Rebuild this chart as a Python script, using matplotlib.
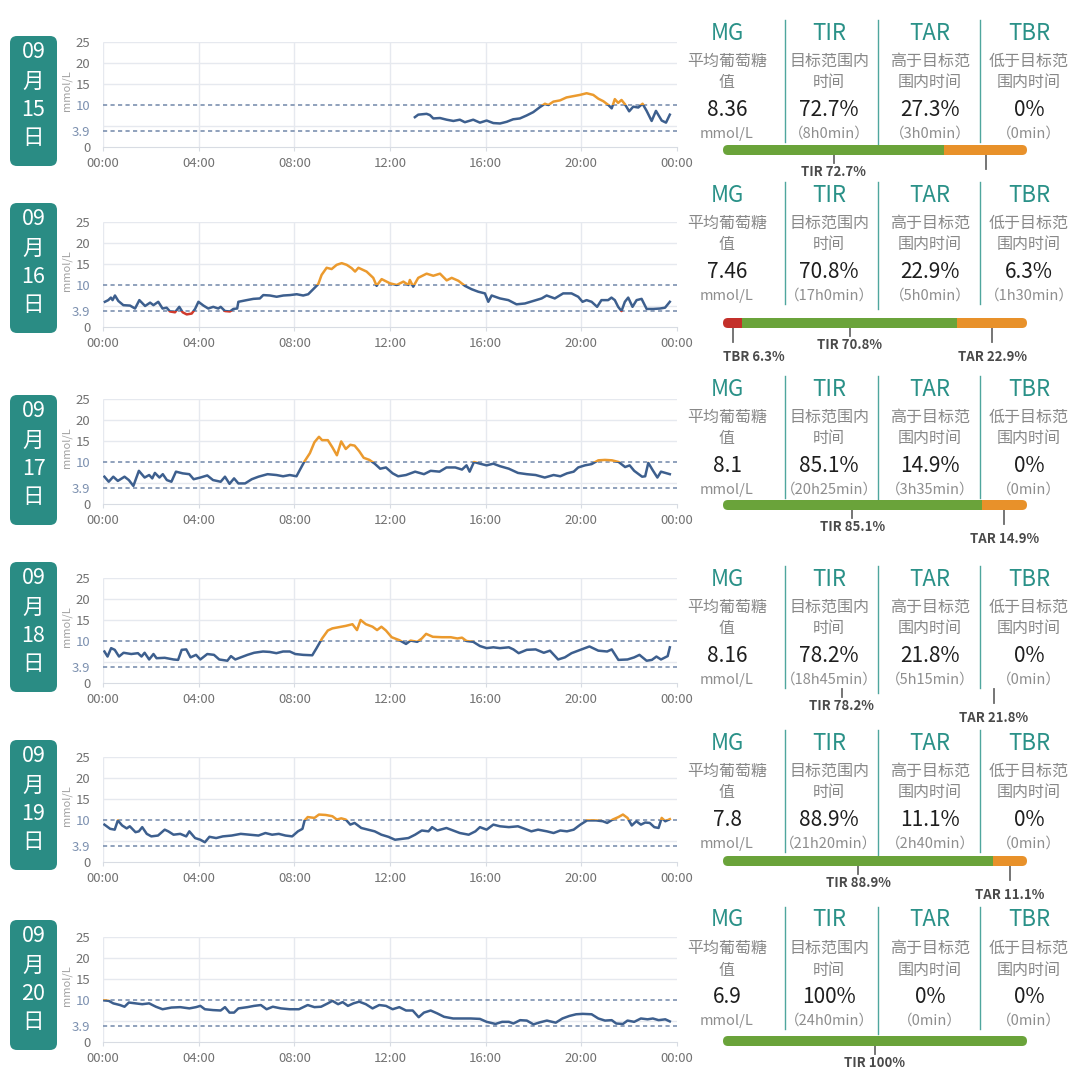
# CGM daily glucose overview (6 days) with TIR / TAR / TBR summary panels

import matplotlib
matplotlib.use('Agg')
import matplotlib.pyplot as plt
from matplotlib.patches import FancyBboxPatch, Rectangle
from matplotlib.transforms import blended_transform_factory

plt.rcParams['font.family'] = ['Noto Sans CJK SC', 'DejaVu Sans']

# ---------------- data ----------------
month = '09'
days = ['15', '16', '17', '18', '19', '20']

d15_t = [13.04, 13.18, 13.53, 13.67, 13.81, 14.09, 14.37, 14.65, 14.92, 15.13, 15.48, 15.76,
         16.04, 16.32, 16.60, 16.88, 17.15, 17.43, 17.71, 17.99, 18.27, 18.48, 18.62, 18.83,
         19.11, 19.38, 19.66, 19.94, 20.22, 20.50, 20.71, 20.92, 21.13, 21.27, 21.40, 21.54,
         21.68, 21.82, 22.00, 22.17, 22.38, 22.56, 22.73, 22.94, 23.12, 23.36, 23.54, 23.70]
d15_g = [7.1, 7.7, 7.9, 7.6, 6.8, 6.9, 6.5, 6.2, 6.5, 5.9, 6.5, 5.8,
         6.3, 5.7, 5.6, 6.0, 6.6, 6.8, 7.5, 8.3, 9.5, 10.3, 10.0, 10.8,
         11.1, 11.8, 12.1, 12.4, 12.8, 12.4, 11.5, 10.9, 10.0, 9.2, 11.4, 10.5,
         11.2, 10.2, 8.5, 9.6, 9.4, 10.3, 8.6, 6.2, 8.6, 6.3, 5.8, 7.7]

d16_t = [0.08, 0.22, 0.33, 0.40, 0.50, 0.64, 0.85, 1.13, 1.34, 1.52,
         1.76, 1.97, 2.11, 2.31, 2.49, 2.66, 2.80, 3.01, 3.19, 3.33,
         3.50, 3.71, 3.85, 3.99, 4.20, 4.40, 4.61, 4.82, 4.92, 5.10,
         5.31, 5.45, 5.61, 5.66, 6.01, 6.29, 6.56, 6.70, 6.98, 7.26,
         7.54, 7.82, 8.10, 8.37, 8.58, 8.72, 8.86, 9.00, 9.14, 9.35,
         9.56, 9.77, 9.98, 10.19, 10.40, 10.54, 10.68,
         11.02, 11.30, 11.44, 11.65, 12.00, 12.28, 12.56, 12.77, 12.83, 12.97,
         13.18, 13.53, 13.81, 14.09, 14.37, 14.58, 14.86, 15.13, 15.41, 15.69,
         15.97, 16.11, 16.25, 16.60, 16.95, 17.29, 17.64, 17.99, 18.34, 18.55,
         18.89, 19.24, 19.59, 19.87, 20.05, 20.22, 20.43, 20.66, 20.84, 21.12,
         21.26, 21.40, 21.54, 21.68, 21.82, 21.96, 22.14, 22.31, 22.52, 22.73,
         23.01, 23.29, 23.50, 23.70]
d16_g = [6.0, 6.4, 7.0, 6.4, 7.5, 6.2, 5.2, 5.1, 4.4, 6.4,
         5.0, 5.8, 5.2, 6.0, 4.4, 4.6, 3.7, 3.5, 4.8, 3.5,
         3.0, 3.2, 4.3, 6.0, 5.1, 4.4, 4.8, 4.4, 4.8, 3.8,
         3.7, 4.3, 4.4, 6.0, 6.4, 6.7, 6.8, 7.6, 7.5, 7.2,
         7.5, 7.6, 7.8, 7.5, 7.8, 8.6, 9.4, 10.2, 12.4, 14.1,
         13.8, 14.8, 15.2, 14.8, 14.0, 13.2, 14.1,
         13.2, 11.7, 9.8, 11.4, 10.4, 10.0, 10.8, 10.0, 11.2, 9.6,
         11.7, 12.7, 12.2, 12.7, 11.1, 11.7, 11.0, 9.8, 9.0, 8.4,
         8.0, 6.0, 7.5, 6.8, 6.4, 5.4, 5.6, 6.2, 6.8, 7.5,
         6.8, 8.0, 8.0, 7.2, 6.0, 6.4, 6.0, 4.8, 6.4, 6.4,
         7.0, 6.4, 4.8, 3.8, 6.0, 7.0, 4.8, 6.4, 6.7, 4.3,
         4.3, 4.4, 4.6, 6.0]

d17_t = [0.06, 0.24, 0.43, 0.62, 0.90, 1.08, 1.27, 1.50, 1.74, 1.93,
         2.06, 2.17, 2.36, 2.50, 2.67, 2.86, 3.05, 3.33, 3.61, 3.79,
         4.07, 4.36, 4.60, 4.92, 5.10, 5.29, 5.48, 5.66, 5.94, 6.22,
         6.50, 6.88, 7.25, 7.53, 7.81, 8.09, 8.22, 8.41, 8.65, 8.84,
         9.03, 9.16, 9.40, 9.59, 9.78, 9.96, 10.15, 10.34, 10.52, 10.71,
         10.90, 11.14, 11.36, 11.59, 11.83, 12.11, 12.34, 12.67, 13.05, 13.42,
         13.70, 14.07, 14.36, 14.73, 15.01, 15.20, 15.33, 15.51, 15.76, 16.04,
         16.32, 16.60, 16.97, 17.35, 17.72, 18.09, 18.47, 18.84, 19.12, 19.40,
         19.68, 19.87, 20.15, 20.43, 20.71, 20.99, 21.28, 21.56, 21.83, 22.02,
         22.21, 22.54, 22.67, 22.80, 22.99, 23.18, 23.33, 23.70]
d17_g = [6.5, 5.3, 6.5, 5.5, 6.5, 5.7, 4.3, 7.9, 6.3, 6.9,
         6.1, 7.4, 6.3, 7.1, 5.7, 5.3, 7.7, 7.3, 7.1, 5.9,
         6.3, 6.8, 5.7, 5.3, 6.5, 4.8, 6.1, 4.9, 4.9, 5.9,
         6.5, 7.1, 6.9, 6.6, 6.9, 6.6, 8.0, 10.0, 12.1, 14.7,
         16.0, 15.2, 15.2, 13.5, 11.6, 14.9, 13.1, 14.1, 13.9, 12.6,
         11.0, 10.5, 9.6, 8.4, 8.7, 7.3, 6.6, 6.9, 7.7, 7.1,
         7.9, 7.7, 8.7, 8.7, 8.2, 9.2, 7.7, 10.0, 9.6, 9.2,
         9.6, 9.0, 8.4, 7.4, 7.1, 6.9, 6.3, 6.9, 6.6, 7.3,
         7.7, 8.7, 9.2, 9.5, 10.4, 10.5, 10.4, 10.0, 8.8, 9.2,
         7.9, 6.5, 6.6, 9.8, 8.0, 6.3, 7.7, 7.1]

d18_t = [0.06, 0.19, 0.34, 0.49, 0.67, 0.86, 1.18, 1.46, 1.61, 1.74,
         1.93, 2.11, 2.24, 2.58, 2.95, 3.14, 3.29, 3.48, 3.66, 3.89,
         4.07, 4.36, 4.64, 4.86, 5.20, 5.35, 5.53, 5.76, 6.04, 6.32,
         6.69, 6.97, 7.25, 7.53, 7.81, 8.04, 8.37, 8.75, 8.93, 9.16,
         9.40, 9.59, 9.87, 10.15, 10.43, 10.62, 10.77, 10.99, 11.27, 11.46,
         11.64, 11.83, 12.07, 12.39, 12.67, 12.86, 13.14, 13.33, 13.51, 13.79,
         14.17, 14.54, 14.82, 15.01, 15.20, 15.48, 15.76, 16.04, 16.32, 16.60,
         16.97, 17.16, 17.38, 17.72, 18.09, 18.43, 18.69, 19.03, 19.31, 19.59,
         19.96, 20.34, 20.71, 21.08, 21.27, 21.55, 21.93, 22.21, 22.43, 22.73,
         22.95, 23.14, 23.33, 23.61, 23.70]
d18_g = [7.5, 6.3, 8.3, 7.9, 6.3, 7.2, 6.9, 7.1, 6.3, 7.2,
         5.6, 6.9, 5.9, 6.0, 5.6, 5.5, 7.9, 8.0, 6.1, 6.7,
         5.6, 6.9, 6.7, 5.6, 5.3, 6.4, 5.6, 6.1, 6.7, 7.2,
         7.5, 7.4, 7.1, 7.5, 7.5, 6.9, 6.7, 6.6, 8.3, 10.6,
         12.5, 13.0, 13.3, 13.6, 14.0, 12.6, 15.0, 14.0, 13.4, 12.6,
         13.4, 12.5, 10.9, 10.2, 9.3, 10.1, 9.8, 10.6, 11.7, 11.0,
         10.9, 10.9, 10.6, 10.8, 10.0, 9.8, 8.8, 8.3, 8.5, 8.3,
         8.5, 8.0, 7.1, 7.9, 8.0, 7.2, 7.7, 5.6, 6.1, 7.1,
         7.9, 8.7, 7.7, 7.5, 8.0, 5.5, 5.6, 6.1, 6.7, 5.3,
         5.5, 6.3, 5.6, 6.4, 8.5]

d19_t = [0.06, 0.30, 0.49, 0.62, 0.80, 0.99, 1.12, 1.36, 1.50, 1.64,
         1.83, 2.02, 2.30, 2.58, 2.73, 2.95, 3.23, 3.48, 3.61, 3.85,
         4.07, 4.26, 4.45, 4.73, 5.01, 5.38, 5.76, 6.13, 6.50, 6.79,
         7.07, 7.35, 7.63, 7.91, 8.15, 8.34, 8.43, 8.56, 8.84, 9.03,
         9.31, 9.59, 9.78, 9.96, 10.15, 10.34, 10.52, 10.80, 11.08, 11.36,
         11.64, 11.93, 12.21, 12.49, 12.77, 13.05, 13.33, 13.61, 13.76, 13.98,
         14.36, 14.64, 14.92, 15.29, 15.57, 15.76, 16.04, 16.32, 16.60, 16.97,
         17.35, 17.63, 17.91, 18.19, 18.56, 18.84, 19.12, 19.40, 19.68, 19.96,
         20.24, 20.62, 20.90, 21.08, 21.31, 21.55, 21.74, 21.93, 22.11, 22.30,
         22.49, 22.67, 22.86, 23.05, 23.23, 23.36, 23.51, 23.70]
d19_g = [8.9, 7.9, 7.7, 9.9, 8.7, 8.0, 8.5, 7.1, 7.3, 8.3,
         6.7, 6.1, 6.3, 7.7, 7.3, 6.5, 6.7, 6.1, 7.3, 5.7,
         5.3, 4.7, 6.0, 5.7, 6.1, 6.3, 6.7, 6.5, 6.3, 6.9,
         6.5, 6.7, 6.3, 6.1, 7.3, 7.9, 9.9, 10.7, 10.5, 11.3,
         11.2, 10.9, 10.1, 10.4, 10.1, 8.9, 9.3, 8.1, 7.7, 7.3,
         6.5, 6.0, 5.3, 5.5, 5.7, 6.5, 7.5, 7.3, 8.3, 7.5,
         8.1, 7.5, 6.9, 6.5, 7.3, 8.3, 7.7, 8.9, 8.5, 8.3,
         8.5, 7.9, 7.3, 7.7, 7.3, 6.9, 7.5, 7.3, 7.7, 8.9,
         9.9, 9.9, 9.7, 9.3, 10.1, 10.7, 11.3, 10.5, 8.7, 9.7,
         8.9, 9.4, 9.3, 8.3, 8.1, 10.5, 9.7, 10.2]

d20_t = [0.06, 0.24, 0.43, 0.71, 0.90, 1.08, 1.36, 1.64, 1.93, 2.21,
         2.49, 2.86, 3.23, 3.61, 3.89, 4.07, 4.26, 4.60, 4.92, 5.10,
         5.29, 5.48, 5.66, 6.04, 6.32, 6.60, 6.84, 7.10, 7.44, 7.81,
         8.19, 8.56, 8.84, 9.12, 9.40, 9.59, 9.83, 10.02, 10.24, 10.47,
         10.71, 10.99, 11.27, 11.55, 11.83, 12.11, 12.39, 12.67, 12.95, 13.20,
         13.42, 13.70, 13.98, 14.26, 14.64, 15.01, 15.38, 15.76, 16.04, 16.41,
         16.69, 16.97, 17.16, 17.44, 17.72, 18.00, 18.28, 18.56, 18.93, 19.21,
         19.50, 19.78, 20.06, 20.43, 20.71, 20.99, 21.27, 21.46, 21.74, 21.93,
         22.21, 22.49, 22.77, 22.99, 23.23, 23.51, 23.70]
d20_g = [9.9, 9.8, 9.2, 8.8, 8.4, 9.4, 9.2, 9.0, 9.2, 8.4,
         7.8, 8.2, 8.3, 8.0, 8.3, 8.6, 7.8, 7.6, 7.5, 8.3,
         7.0, 7.0, 8.0, 8.3, 8.6, 8.8, 7.8, 8.4, 8.0, 7.8,
         7.8, 8.8, 8.3, 8.4, 9.2, 9.8, 9.0, 9.5, 8.6, 9.2,
         9.6, 9.0, 8.0, 8.8, 8.6, 7.8, 8.3, 7.5, 7.5, 5.9,
         7.0, 7.5, 6.8, 6.0, 5.6, 5.6, 5.6, 5.5, 4.8, 4.3,
         4.8, 4.8, 4.4, 5.2, 5.1, 4.2, 4.7, 5.1, 4.6, 5.6,
         6.2, 6.6, 6.7, 6.6, 5.6, 5.1, 5.2, 4.4, 4.3, 5.1,
         4.8, 5.6, 5.4, 5.6, 5.2, 5.4, 4.9]

series_t = [d15_t, d16_t, d17_t, d18_t, d19_t, d20_t]
series_g = [d15_g, d16_g, d17_g, d18_g, d19_g, d20_g]

mg_val = ['8.36', '7.46', '8.1', '8.16', '7.8', '6.9']
tir_txt = ['72.7%', '70.8%', '85.1%', '78.2%', '88.9%', '100%']
tar_txt = ['27.3%', '22.9%', '14.9%', '21.8%', '11.1%', '0%']
tbr_txt = ['0%', '6.3%', '0%', '0%', '0%', '0%']
tir_pct = [72.7, 70.8, 85.1, 78.2, 88.9, 100]
tar_pct = [27.3, 22.9, 14.9, 21.8, 11.1, 0]
tbr_pct = [0, 6.3, 0, 0, 0, 0]
tir_time = ['8h0min', '17h0min', '20h25min', '18h45min', '21h20min', '24h0min']
tar_time = ['3h0min', '5h0min', '3h35min', '5h15min', '2h40min', '0min']
tbr_time = ['0min', '1h30min', '0min', '0min', '0min', '0min']
bar_drawn = [True, True, True, False, True, True]
tar_label_shown = [False, True, True, True, True, False]

heads = ['MG', 'TIR', 'TAR', 'TBR']
subs = [('平均葡萄糖', '值'), ('目标范围内', '时间'), ('高于目标范', '围内时间'), ('低于目标范', '围内时间')]

ytick_vals = [0, 3.9, 10, 15, 20, 25]
xtick_vals = [0, 4, 8, 12, 16, 20, 24]
xtick_labels = ['00:00', '04:00', '08:00', '12:00', '16:00', '20:00', '00:00']

# ---------------- layout (pixels) ----------------
W, H = 1080, 1083
badge_top = [36, 203, 395, 562, 740, 920]
plot_top = [42, 222, 399, 578, 757, 937]
head_y = [33, 195, 389, 579, 743, 920]
bar_y = [150, 323, 505, 684, 861, 1041]
col_x = [727, 829, 930, 1029]
sep_x = [785, 878, 980]

TEAL = '#2a8c84'
HEAD = '#2a9188'
BLUE = '#3d5f8e'
ORANGE = '#eb9a2e'
RED = '#cf3a2c'
GREEN = '#6aa33a'
BAR_OR = '#e8912a'
BAR_RED = '#c3302a'
GRID = '#e6e9ef'
REF = '#7d91b0'


def px_rect(x0, y0, x1, y1):
    return [x0 / W, 1 - y1 / H, (x1 - x0) / W, (y1 - y0) / H]


fig = plt.figure(figsize=(W / 100, H / 100), dpi=100)
ov = fig.add_axes([0, 0, 1, 1])
ov.set_xlim(0, W)
ov.set_ylim(H, 0)
ov.axis('off')

for i in range(6):
    # date badge
    top = badge_top[i]
    ov.add_patch(FancyBboxPatch((10, top), 47, 130, boxstyle='round,pad=0,rounding_size=7',
                                fc=TEAL, ec='none'))
    for txt, dy in zip([month, '月', days[i], '日'], [16, 46, 74, 102]):
        ov.text(33.5, top + dy, txt, color='white', fontsize=15.5, ha='center', va='center')

    # glucose chart
    ax = fig.add_axes(px_rect(103, plot_top[i], 677, plot_top[i] + 105))
    ax.set_facecolor('none')
    ax.set_xlim(0, 24)
    ax.set_ylim(0, 25)
    for s in ['top', 'right', 'left']:
        ax.spines[s].set_visible(False)
    ax.spines['bottom'].set_color('#d8dce3')
    ax.hlines([5, 15, 20, 25], 0, 24, color=GRID, lw=1, zorder=0)
    ax.vlines(xtick_vals[:-1], 0, 25, color=GRID, lw=1, zorder=0)
    ax.axhline(10, color=REF, lw=1.2, ls=(0, (2.5, 2)), zorder=1)
    ax.axhline(3.9, color=REF, lw=1.2, ls=(0, (2.5, 2)), zorder=1)
    ax.set_xticks(xtick_vals)
    ax.set_xticklabels(xtick_labels)
    ax.set_yticks(ytick_vals)
    ax.set_yticklabels(['0', '3.9', '10', '15', '20', '25'])
    ax.tick_params(axis='y', length=0, pad=9, labelsize=9.5, labelcolor='#727272')
    ax.tick_params(axis='x', length=3, color='#d8dce3', pad=4, labelsize=9.5, labelcolor='#727272')
    for lab, v in zip(ax.get_yticklabels(), ytick_vals):
        if v in (3.9, 10):
            lab.set_color(REF)
    ax.text(-0.063, 0.54, 'mmol/L', rotation=90, transform=ax.transAxes,
            ha='center', va='center', fontsize=8, color='#a0a0a0')

    t, g = series_t[i], series_g[i]
    for col, lo, hi in [(BLUE, 3.9, 10), (ORANGE, 10, 40), (RED, -5, 3.9)]:
        ln, = ax.plot(t, g, color=col, lw=1.8, solid_joinstyle='round', zorder=3)
        ln.set_clip_path(Rectangle((0, lo), 24, hi - lo, transform=ax.transData))

    # summary columns
    h = head_y[i]
    vals = [mg_val[i], tir_txt[i], tar_txt[i], tbr_txt[i]]
    units = ['mmol/L', '（%s）' % tir_time[i], '（%s）' % tar_time[i], '（%s）' % tbr_time[i]]
    for k in range(4):
        cx = col_x[k]
        ov.text(cx, h, heads[k], color=HEAD, fontsize=16, ha='center', va='center')
        ov.text(cx, h + 28, subs[k][0], color='#888888', fontsize=11.5, ha='center', va='center')
        ov.text(cx, h + 50, subs[k][1], color='#888888', fontsize=11.5, ha='center', va='center')
        ov.text(cx, h + 77, vals[k], color='#1e1e1e', fontsize=15, ha='center', va='center')
        ov.text(cx, h + 101, units[k], color='#8e8e8e', fontsize=10.5, ha='center', va='center')
    for k, sx in enumerate(sep_x):
        ov.plot([sx, sx], [h - 13, h + (114 if k == 1 else 109)], color='#4fa69e', lw=1)

    # TBR / TIR / TAR bar
    by = bar_y[i]
    bx = fig.add_axes(px_rect(723, by - 5, 1027, by + 5))
    bx.set_xlim(0, 100)
    bx.set_ylim(0, 10 / 3.04)
    bx.axis('off')
    lefts = [0, tbr_pct[i], tbr_pct[i] + tir_pct[i]]
    widths = [tbr_pct[i], tir_pct[i], tar_pct[i]]
    if bar_drawn[i]:
        clip = FancyBboxPatch((0, 0), 100, 10 / 3.04, boxstyle='round,pad=0,rounding_size=1.64',
                              transform=bx.transData, fc='none', ec='none')
        bx.add_patch(clip)
        bars = bx.barh([10 / 6.08], widths, left=lefts, height=10 / 3.04,
                       color=[BAR_RED, GREEN, BAR_OR], edgecolor='none')
        for b in bars:
            b.set_clip_path(clip)

    tr = blended_transform_factory(bx.transData, ov.transData)
    names = ['TBR', 'TIR', 'TAR']
    texts = [tbr_txt[i], tir_txt[i], tar_txt[i]]
    for k in range(3):
        if widths[k] <= 0:
            continue
        c = lefts[k] + widths[k] / 2
        long_tick = k != 1
        ov.plot([c, c], [by + 5, by + (19 if long_tick else 13)], color='#6a6a6a', lw=1.3,
                transform=tr)
        if k == 2 and not tar_label_shown[i]:
            continue
        ly = by + (34 if long_tick else 22)
        if k == 0:
            ov.text(0, ly, '%s %s' % (names[k], texts[k]), transform=tr, ha='left', va='center',
                    fontsize=9.5, fontweight='bold', color='#4a4a4a')
        else:
            ov.text(c, ly, '%s %s' % (names[k], texts[k]), transform=tr, ha='center',
                    va='center', fontsize=9.5, fontweight='bold', color='#4a4a4a')

fig.savefig('out.png', dpi=100)
